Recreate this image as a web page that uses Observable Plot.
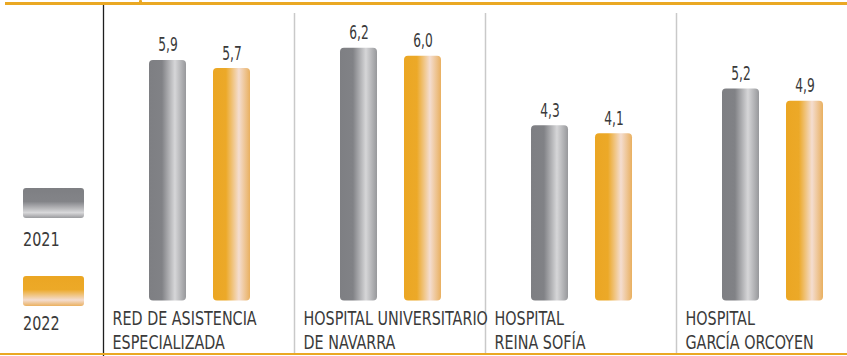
<!DOCTYPE html>
<html>
<head>
<meta charset="utf-8">
<script src="https://cdn.jsdelivr.net/npm/d3@7"></script>
<script src="https://cdn.jsdelivr.net/npm/@observablehq/plot@0.6"></script>
<style>
  html, body { margin: 0; padding: 0; background: #fff; }
  #wrap { position: relative; width: 847px; height: 356px; overflow: hidden;
    font-family: "DejaVu Sans Condensed", "DejaVu Sans", sans-serif; color: #3a3a3a; }
  #chart { position: absolute; left: 0; top: 0; }
  .hline { position: absolute; background: #eaa823; }
  .sw { position: absolute; left: 23px; width: 61px; height: 30px; border-radius: 3px; }
  .lab { position: absolute; left: 23px; font-size: 20px; line-height: 20px; transform: scaleX(0.8); transform-origin: left top; }
</style>
</head>
<body>
<svg width="0" height="0" style="position:absolute">
  <defs>
    <linearGradient id="g2021" x1="0" x2="1" y1="0" y2="0">
      <stop offset="0" stop-color="#7e7f83"/>
      <stop offset="0.35" stop-color="#818286"/>
      <stop offset="0.7" stop-color="#d6d6d8"/>
      <stop offset="1" stop-color="#97989b"/>
    </linearGradient>
    <linearGradient id="g2022" x1="0" x2="1" y1="0" y2="0">
      <stop offset="0" stop-color="#eba623"/>
      <stop offset="0.35" stop-color="#eca928"/>
      <stop offset="0.7" stop-color="#f4ddd0"/>
      <stop offset="1" stop-color="#e9b060"/>
    </linearGradient>
  </defs>
</svg>
<div id="wrap">
  <div id="chart"></div>
  <div class="hline" style="left:5px;top:2px;width:842px;height:3px;"></div>
  <div class="hline" style="left:139px;top:0px;width:3px;height:4px;border-radius:1px;"></div>
  <div class="hline" style="left:0px;top:353px;width:847px;height:2px;"></div>
  <div class="sw" style="top:188px;background:linear-gradient(to bottom,#7e7f83 0%,#838488 45%,#d8d8da 82%,#9a9b9e 100%);"></div>
  <div class="lab" style="top:229px;">2021</div>
  <div class="sw" style="top:276px;background:linear-gradient(to bottom,#eba623 0%,#eca928 45%,#f4ddd0 80%,#eab060 100%);"></div>
  <div class="lab" style="top:313px;">2022</div>
</div>
<script>
const categories = ["RED DE ASISTENCIA\nESPECIALIZADA", "HOSPITAL UNIVERSITARIO\nDE NAVARRA", "HOSPITAL\nREINA SOFÍA", "HOSPITAL\nGARCÍA ORCOYEN"];
const years = ["2021", "2022"];
const values2021 = [5.9, 6.2, 4.3, 5.2];
const values2022 = [5.7, 6.0, 4.1, 4.9];

const d2021 = categories.map((c, i) => ({cat: c, year: years[0], v: values2021[i]}));
const d2022 = categories.map((c, i) => ({cat: c, year: years[1], v: values2022[i]}));
const fmt = v => v.toFixed(1).replace(".", ",");
const half = 95.5;

const chart = Plot.plot({
  width: 847,
  height: 356,
  marginLeft: 0, marginRight: 0, marginTop: 0, marginBottom: 0,
  style: {background: "transparent", fontFamily: '"DejaVu Sans Condensed", "DejaVu Sans", sans-serif', color: "#3a3a3a"},
  x: {domain: categories, range: [103, 867], padding: 0, axis: null},
  y: {domain: [0, 7], range: [300.5, 15.1], axis: null},
  marks: [
    Plot.ruleX(categories.slice(1), {x: d => d, dx: -half, stroke: "#c9c9c9", strokeWidth: 1.5, insetTop: 13, insetBottom: 3}),
    Plot.ruleX([categories[0]], {x: d => d, dx: -half, stroke: "#1e1e1e", strokeWidth: 1.3, insetTop: 5}),
    Plot.ruleY([0], {y: d => d, x1: () => categories[0], dy: 1.5, stroke: "#eaa823", strokeWidth: 1.5}),
    Plot.barY(d2021, {x: "cat", y: "v", fill: "url(#g2021)", insetLeft: 46, insetRight: 108, rx: 4}),
    Plot.barY(d2022, {x: "cat", y: "v", fill: "url(#g2022)", insetLeft: 110, insetRight: 44, rx: 4}),
    Plot.text(d2021, {x: "cat", y: "v", text: d => fmt(d.v), dx: -31, dy: -9, lineAnchor: "bottom", fontSize: 20, fill: "#3a3a3a"}),
    Plot.text(d2022, {x: "cat", y: "v", text: d => fmt(d.v), dx: 33, dy: -9, lineAnchor: "bottom", fontSize: 20, fill: "#3a3a3a"}),
    Plot.text(categories, {x: d => d, y: () => 0, text: d => d, dx: -half + 9, dy: 8, textAnchor: "start", lineAnchor: "top", lineHeight: 1.22, fontSize: 19, fill: "#3a3a3a"})
  ]
});

// condense the text horizontally (the reference uses a narrow typeface)
function squeeze(sel, k) {
  chart.querySelectorAll(sel).forEach(t => {
    let tr = t.getAttribute("transform") || "";
    const x = t.getAttribute("x"), y = t.getAttribute("y");
    if (x !== null || y !== null) {
      tr = `translate(${x || 0},${y || 0}) ` + tr;
      t.removeAttribute("x"); t.removeAttribute("y");
    }
    t.setAttribute("transform", tr + ` scale(${k},1)`);
  });
}
squeeze('g[font-size="20"] text', 0.68);
squeeze('g[font-size="19"] text', 0.84);

document.getElementById("chart").appendChild(chart);
</script>
</body>
</html>
